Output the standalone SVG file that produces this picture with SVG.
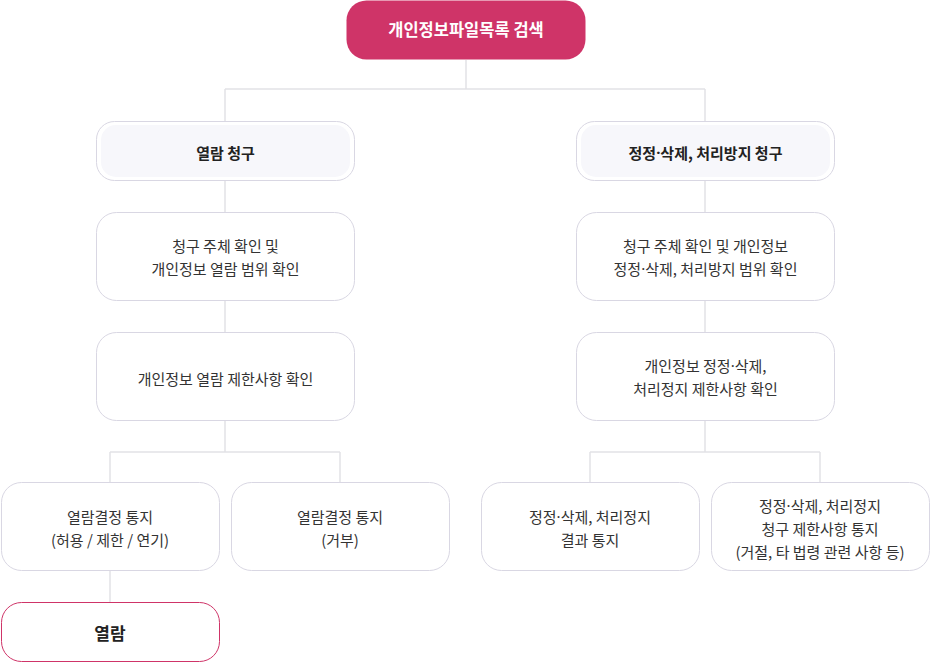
<svg xmlns="http://www.w3.org/2000/svg" width="930" height="662" viewBox="0 0 930 662">
<style>
text{font-family:"Noto Sans CJK KR","Noto Sans",sans-serif;text-anchor:middle;dominant-baseline:central;}
.box{fill:#ffffff;stroke:#d9d7e3;stroke-width:1;}
.hdr{fill:#ffffff;stroke:#d9d7e3;stroke-width:1;}
.hin{fill:#f7f7fb;stroke:none;}
.t{font-size:15px;fill:#333333;}
.tb{font-size:15px;font-weight:bold;fill:#222222;}
.d{font-family:"Noto Sans","DejaVu Sans",sans-serif;}
.ln{fill:none;stroke:#e2e2e6;stroke-width:1.5;}
</style>
<g id="connectors">
<path class="ln" d="M466 60 V89 M225 89 H705 M225 89 V121 M705 89 V121"/>
<path class="ln" d="M225 181 V212 M225 301 V332 M225 421 V452 M110 452 H340 M110 452 V482 M340 452 V482 M110 571 V602"/>
<path class="ln" d="M705 181 V212 M705 301 V332 M705 421 V452 M590 452 H820 M590 452 V482 M820 452 V482"/>
</g>
<g id="n-top">
<rect x="346.5" y="0.5" width="239" height="59" rx="20" fill="#cf3468"/>
<text x="466" y="29" style="font-size:16.5px;font-weight:bold;fill:#ffffff">개인정보파일목록 검색</text>
</g>
<g id="n-l1">
<rect class="hdr" x="96.5" y="121.5" width="258" height="59" rx="18"/>
<rect class="hin" x="101" y="125" width="249" height="52" rx="15"/>
<text class="tb" x="225.5" y="152">열람 청구</text>
</g>
<g id="n-l2">
<rect class="box" x="96.5" y="212.5" width="258" height="88" rx="20"/>
<text class="t" x="225.5" y="245">청구 주체 확인 및</text>
<text class="t" x="225.5" y="268">개인정보 열람 범위 확인</text>
</g>
<g id="n-l3">
<rect class="box" x="96.5" y="332.5" width="258" height="88" rx="20"/>
<text class="t" x="225.5" y="378">개인정보 열람 제한사항 확인</text>
</g>
<g id="n-l4a">
<rect class="box" x="1.5" y="482.5" width="218" height="88" rx="20"/>
<text class="t" x="110" y="516">열람결정 통지</text>
<text class="t" x="110" y="539">(허용 / 제한 / 연기)</text>
</g>
<g id="n-l4b">
<rect class="box" x="231.5" y="482.5" width="218" height="88" rx="20"/>
<text class="t" x="340" y="516">열람결정 통지</text>
<text class="t" x="340" y="539">(거부)</text>
</g>
<g id="n-l5">
<rect x="1.5" y="602.5" width="218" height="59" rx="20" fill="#ffffff" stroke="#cf3468" stroke-width="1"/>
<text x="110" y="632" style="font-size:17px;font-weight:bold;fill:#222222">열람</text>
</g>
<g id="n-r1">
<rect class="hdr" x="576.5" y="121.5" width="258" height="59" rx="18"/>
<rect class="hin" x="581" y="125" width="249" height="52" rx="15"/>
<text class="tb" x="705.5" y="152">정정<tspan class="d">·</tspan>삭제, 처리방지 청구</text>
</g>
<g id="n-r2">
<rect class="box" x="576.5" y="212.5" width="258" height="88" rx="20"/>
<text class="t" x="705.5" y="245">청구 주체 확인 및 개인정보</text>
<text class="t" x="705.5" y="268">정정<tspan class="d">·</tspan>삭제, 처리방지 범위 확인</text>
</g>
<g id="n-r3">
<rect class="box" x="576.5" y="332.5" width="258" height="88" rx="20"/>
<text class="t" x="705.5" y="365">개인정보 정정<tspan class="d">·</tspan>삭제,</text>
<text class="t" x="705.5" y="388">처리정지 제한사항 확인</text>
</g>
<g id="n-r4a">
<rect class="box" x="481.5" y="482.5" width="218" height="88" rx="20"/>
<text class="t" x="590" y="516">정정<tspan class="d">·</tspan>삭제, 처리정지</text>
<text class="t" x="590" y="539">결과 통지</text>
</g>
<g id="n-r4b">
<rect class="box" x="711.5" y="482.5" width="218" height="88" rx="20"/>
<text class="t" x="820" y="505">정정<tspan class="d">·</tspan>삭제, 처리정지</text>
<text class="t" x="820" y="528">청구 제한사항 통지</text>
<text class="t" x="820" y="551">(거절, 타 법령 관련 사항 등)</text>
</g>
</svg>
